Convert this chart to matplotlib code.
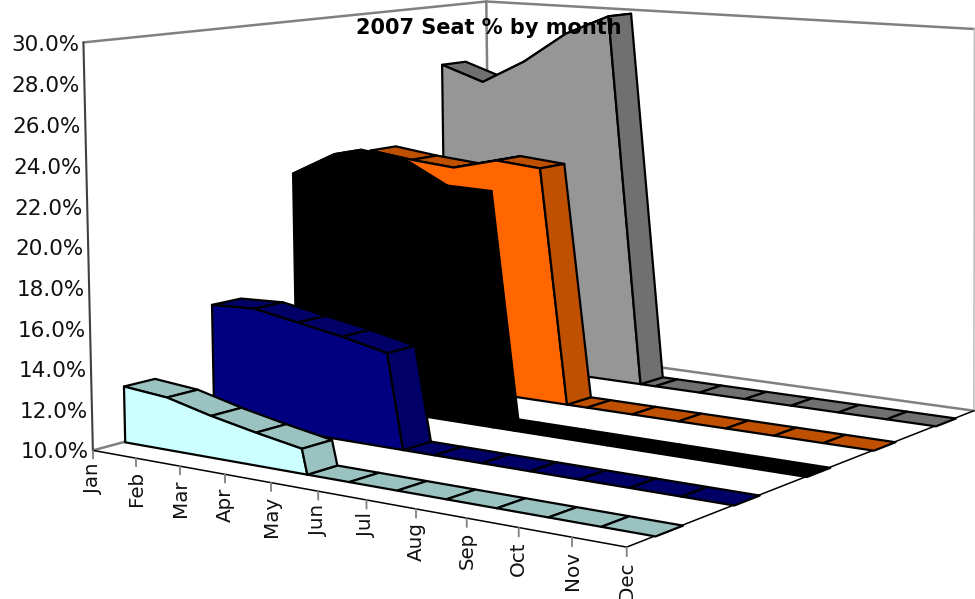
import numpy as np
import matplotlib
matplotlib.use("Agg")
import matplotlib.pyplot as plt
from mpl_toolkits.mplot3d import proj3d
from mpl_toolkits.mplot3d.art3d import Poly3DCollection

months = ["Jan", "Feb", "Mar", "Apr", "May", "Jun", "Jul", "Aug", "Sep", "Oct", "Nov", "Dec"]
y_ticks = [10, 12, 14, 16, 18, 20, 22, 24, 26, 28, 30]

# the sheet has blanks after May, so those months count as 0 and fall below the axis minimum
cyan_vals = [12.8, 12.6, 12.05, 11.6, 11.2, 0, 0, 0, 0, 0, 0, 0]
navy_vals = [15.9, 16.0, 15.6, 15.2, 14.7, 0, 0, 0, 0, 0, 0, 0]
black_vals = [21.95, 23.2, 22.95, 21.75, 21.7, 0, 0, 0, 0, 0, 0, 0]
orange_vals = [22.5, 22.2, 22.0, 22.6, 22.4, 0, 0, 0, 0, 0, 0, 0]
gray_vals = [26.7, 25.9, 27.2, 28.9, 30.0, 0, 0, 0, 0, 0, 0, 0]

W, H = 975, 599
fig = plt.figure(figsize=(W / 100, H / 100), dpi=100)
# 3d axes always get a square box, so make it square and let it hang off the figure
ax = fig.add_axes([0, 0.5 - W / H / 2, 1, W / H], projection="3d")
ax.set_axis_off()
ax.set_proj_type("ortho")
ax.computed_zorder = False
ax.apply_aspect()

# camera calibration: chart box corners (month, depth, value) -> pixel
corners = [
    ((0, 0, 10), (93, 449)), ((11, 0, 10), (627, 548)), ((11, 5, 10), (974, 410)),
    ((0, 5, 10), (490, 345)), ((0, 0, 30), (83, 43)), ((0, 5, 30), (487, 1)), ((11, 5, 30), (974, 29)),
]
rows = []
for (x, y, z), (px, py) in corners:
    u, v = ax.transData.inverted().transform((px, H - py))
    rows.append([x, y, z, 1, 0, 0, 0, 0, -u * x, -u * y, -u * z, -u])
    rows.append([0, 0, 0, 0, x, y, z, 1, -v * x, -v * y, -v * z, -v])
P = np.linalg.svd(np.array(rows))[2][-1].reshape(3, 4)
M = np.array([P[0], P[1], [0, 1, 0, 0], P[2]])
ax.get_proj = lambda: M

z = 1


def face(pts, fc, ec="black", lw=1.6):
    global z
    pc = Poly3DCollection([pts], facecolors=fc, edgecolors=ec, linewidths=lw, zorder=z)
    ax.add_collection3d(pc)
    z += 1


def line(p, q, color, lw=1.3):
    global z
    ax.plot(*zip(p, q), color=color, lw=lw, zorder=z, solid_capstyle="round")
    z += 1


def label(x, y, val, s, **kw):
    u, v, _ = proj3d.proj_transform(x, y, val, M)
    ax.text2D(u, v, s, transform=ax.transData, color="#111111", **kw)


# walls
line((0, 5, 10), (0, 5, 30), "#808080", 1.8)
line((0, 0, 30), (0, 5, 30), "#808080", 1.8)
line((0, 5, 30), (11, 5, 30), "#808080", 1.8)
line((0, 0, 10), (0, 5, 10), "#808080", 1.8)
line((0, 5, 10), (11, 5, 10), "#808080", 1.8)
line((11, 5, 10), (11, 5, 30), "#c0c0c0", 1.2)
line((0, 0, 10), (0, 0, 30), "#404040", 1.5)
line((0, 0, 10), (11, 0, 10), "black", 1.1)
line((11, 0, 10), (11, 5, 10), "black", 1.1)

series = [
    (gray_vals, 4, "#969696", "#707070"),
    (orange_vals, 3, "#ff6600", "#bf5000"),
    (black_vals, 2, "black", "black"),
    (navy_vals, 1, "#000080", "#000066"),
    (cyan_vals, 0, "#ccffff", "#99c2c0"),
]
for vals, d, front, side in series:
    y0, y1 = d + 0.34, d + 0.68
    last = 4  # May
    # where the drop to Jun crosses the 10% floor
    xc = last + (vals[last] - 10) / (vals[last] - vals[last + 1])
    edges = [xc] + list(range(last + 1, 12))
    for a, b in zip(edges[:-1], edges[1:]):
        face([(a, y0, 10), (b, y0, 10), (b, y1, 10), (a, y1, 10)], side)
    for m in range(last):
        face([(m, y0, vals[m]), (m + 1, y0, vals[m + 1]), (m + 1, y1, vals[m + 1]), (m, y1, vals[m])], side)
    outline = [(m, y0, vals[m]) for m in range(last + 1)] + [(xc, y0, 10), (0, y0, 10)]
    face(outline, front)
    face([(last, y0, vals[last]), (last, y1, vals[last]), (xc, y1, 10), (xc, y0, 10)], side)

for m, name in enumerate(months):
    line((m, 0, 10), (m, 0, 9.6), "#808080", 1.3)
    label(m, 0, 9.38, name, rotation=90, ha="center", va="top", fontsize=14.3)
for t in y_ticks:
    label(-0.1, 0, t - 0.12, f"{t:.1f}%", ha="right", va="center", fontsize=15.5)

fig.text(489 / W, 1 - 27.5 / H, "2007 Seat % by month", ha="center", va="center", fontsize=15, fontweight="bold")
fig.savefig("out.png", dpi=100)
